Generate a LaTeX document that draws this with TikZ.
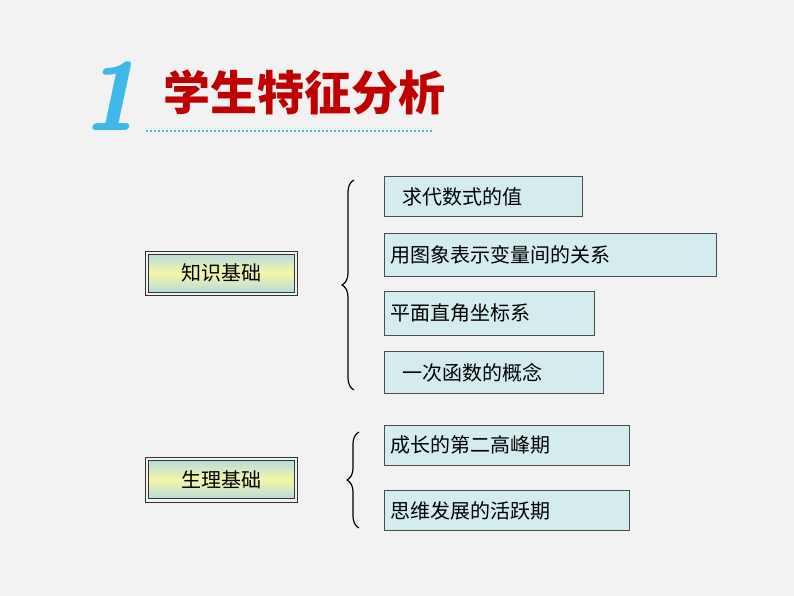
\documentclass[tikz,border=0pt]{standalone}
\usepackage{fontspec}
\newfontfamily\cjk{Noto Sans CJK SC}
\newfontfamily\cjkb{Noto Sans CJK SC Black}
\usetikzlibrary{decorations.pathreplacing}
\definecolor{bg}{HTML}{F2F2F2}
\definecolor{rbox}{HTML}{D5ECEE}
\definecolor{tl}{HTML}{B8DCDC}
\definecolor{yl}{HTML}{F4F6A6}
\definecolor{cy}{HTML}{3DB8E8}
\definecolor{rd}{HTML}{C00000}
\begin{document}
\begin{tikzpicture}[x=1pt,y=-1pt,
  rb/.style={draw=black!70,line width=0.8pt,fill=rbox,anchor=north west,inner xsep=0pt,inner ysep=0pt,font=\cjk\fontsize{20}{20}\selectfont,align=left},
  lb/.style={draw=black!80,line width=0.8pt,top color=tl,bottom color=tl,middle color=yl,minimum width=146pt,minimum height=38pt,inner sep=0pt,font=\cjk\fontsize{20}{20}\selectfont},
  br/.style={decorate,decoration={brace,amplitude=12pt},line width=1.2pt}]
\fill[bg] (0,0) rectangle (794,596);
\node[font=\sffamily\bfseries\itshape\fontsize{96}{96}\selectfont,text=cy] (one) at (110,96) {1};
\node[font=\cjkb\fontsize{47}{47}\selectfont,text=rd,anchor=west] (title) at (160,92) {学生特征分析};
\coordinate (d1) at (146,131); \coordinate (d2) at (433,131);
\draw[cy,line width=2pt,dash pattern=on 2pt off 2pt] (d1) -- (d2);
\draw[black!80,line width=0.8pt] (145,251) rectangle (297,295);
\draw[black!80,line width=0.8pt] (145,457) rectangle (297,502);
\node[lb] (k) at (221,273) {知识基础};
\node[lb] (s) at (221,479.5) {生理基础};
\node[rb,minimum width=198pt,minimum height=40pt,text width=198pt] (a1) at (384,176) {\hspace{18pt}求代数式的值};
\node[rb,minimum width=332pt,minimum height=43pt,text width=332pt] (a2) at (384,233) {\hspace{6pt}用图象表示变量间的关系};
\node[rb,minimum width=210pt,minimum height=44pt,text width=210pt] (a3) at (384,291) {\hspace{6pt}平面直角坐标系};
\node[rb,minimum width=219pt,minimum height=42pt,text width=219pt] (a4) at (384,351) {\hspace{18pt}一次函数的概念};
\node[rb,minimum width=245pt,minimum height=40pt,text width=245pt] (b1) at (384,425) {\hspace{6pt}成长的第二高峰期};
\node[rb,minimum width=245pt,minimum height=40pt,text width=245pt] (b2) at (384,490) {\hspace{6pt}思维发展的活跃期};
\coordinate (p1) at (354,180); \coordinate (p2) at (354,390);
\draw[br] (p2) -- (p1);
\coordinate (q1) at (359,432); \coordinate (q2) at (359,528);
\draw[br] (q2) -- (q1);
\end{tikzpicture}
\end{document}
